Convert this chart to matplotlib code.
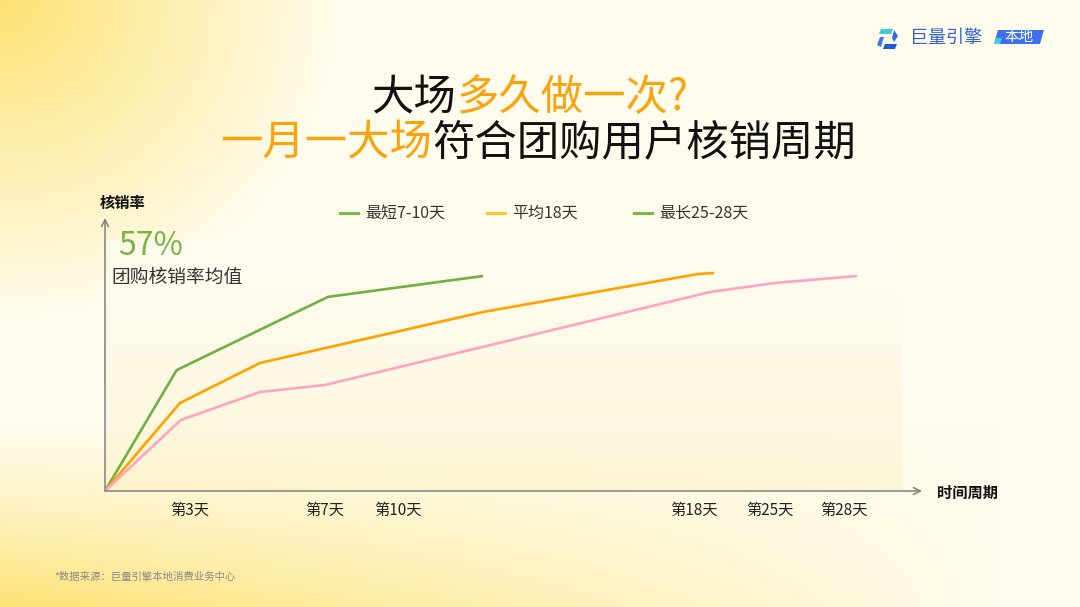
import numpy as np
import matplotlib
matplotlib.use('Agg')
import matplotlib.pyplot as plt
from matplotlib.lines import Line2D
from matplotlib.patches import Polygon

plt.rcParams['font.family'] = ['Noto Sans CJK SC', 'DejaVu Sans']

# ---------------- data ----------------
tick_pos = [10.34, 26.93, 35.86, 72.09, 81.40, 90.45]
tick_labels = ['第3天', '第7天', '第10天', '第18天', '第25天', '第28天']

short_x = [0, 8.78, 27.29, 46.27]
short_y = [0, 44.3, 71.1, 78.75]

avg_x = [0, 9.18, 18.97, 46.27, 72.58, 74.54]
avg_y = [0, 32.23, 46.89, 65.57, 79.49, 79.85]

long_x = [0, 9.27, 18.97, 26.93, 74.05, 82.01, 92.04]
long_y = [0, 26.0, 36.26, 38.83, 72.89, 76.19, 78.75]

legend_labels = ['最短7-10天', '平均18天', '最长25-28天']

GREEN = '#72B043'
ORANGE = '#FFA200'
PINK = '#FFA3C2'
LEG_COLORS = ['#7AB648', '#FFC82C', '#7AB648']

W, H = 1080, 607
fig = plt.figure(figsize=(10.8, 6.07), dpi=100)

def fx(px):
    return px / W

def fy(py):
    return 1 - py / H

# ---------------- background gradient ----------------
bg = fig.add_axes([0, 0, 1, 1], zorder=-10)
xx, yy = np.meshgrid(np.arange(W), np.arange(H))
d1 = np.sqrt((xx / 340.0) ** 2 + (yy / 320.0) ** 2)
w1 = np.clip(1 - d1, 0, 1) ** 1.0
w2 = np.clip((yy - 420) / 187.0, 0, 1) ** 1.3 * np.clip(1 - xx / 1000.0, 0, 1)
w = np.maximum(w1, w2)[..., None]
Y = np.array([253, 225, 115]) / 255.0
C = np.array([255, 252, 237]) / 255.0
img = C + w * (Y - C)
bg.imshow(img, aspect='auto', extent=[0, 1, 0, 1], origin='upper')
bg.set_axis_off()

# ---------------- main axes ----------------
ax = fig.add_axes([fx(105), fy(491), (922 - 105) / W, (491 - 218) / H])
ax.set_xlim(0, 100)
ax.set_ylim(0, 100)
ax.patch.set_alpha(0)
for s in ax.spines.values():
    s.set_visible(False)

# subtle panel gradient
grad = np.linspace(0, 1, 200)[:, None]
top = np.array([255, 254, 248]) / 255.0
bot = np.array([252, 242, 200]) / 255.0
pan = top + grad[..., None] * (bot - top)
pan = np.repeat(pan, 2, axis=1)
ax.imshow(pan, aspect='auto', extent=[0, 97.5, 0, 92], origin='upper', alpha=0.55, zorder=0)

ax.plot(short_x, short_y, color=GREEN, lw=1.9, zorder=3, solid_capstyle='butt')
ax.plot(avg_x, avg_y, color=ORANGE, lw=1.9, zorder=3, solid_capstyle='butt')
ax.plot(long_x, long_y, color=PINK, lw=1.9, zorder=3, solid_capstyle='butt')

axis_col = '#808080'
ax.annotate('', xy=(1.0, 0), xytext=(0, 0), xycoords='axes fraction',
            arrowprops=dict(arrowstyle='->,head_length=0.5,head_width=0.25',
                            color=axis_col, lw=1.1, shrinkA=0, shrinkB=0))
ax.annotate('', xy=(0, 1.0), xytext=(0, 0), xycoords='axes fraction',
            arrowprops=dict(arrowstyle='->,head_length=0.5,head_width=0.25',
                            color=axis_col, lw=1.1, shrinkA=0, shrinkB=0))

ax.set_xticks(tick_pos)
ax.set_xticklabels(tick_labels, fontsize=11, color='#222222')
ax.tick_params(axis='x', length=0, pad=8)
ax.set_yticks([])

# ---------------- titles ----------------
def colored_line(pieces, ypx, cxpx, fs):
    texts = []
    for s, c in pieces:
        t = fig.text(0, fy(ypx), s, color=c, fontsize=fs, ha='left', va='center',
                     fontweight='light')
        texts.append(t)
    r = fig.canvas.get_renderer()
    widths = [t.get_window_extent(r).width for t in texts]
    x = cxpx - sum(widths) / 2
    for t, wd in zip(texts, widths):
        t.set_x(fx(x))
        x += wd

TORANGE = '#F9A30E'
colored_line([('大场', '#111111'), ('多久做一次?', TORANGE)], 98, 530, 30.5)
colored_line([('一月一大场', TORANGE), ('符合团购用户核销周期', '#111111')], 143, 538, 30.5)

# ---------------- axis titles ----------------
fig.text(fx(100), fy(203), '核销率', fontsize=11, fontweight='bold', color='#111111',
         ha='left', va='center')
fig.text(fx(937), fy(493), '时间周期', fontsize=11, fontweight='bold', color='#111111',
         ha='left', va='center')

# ---------------- legend ----------------
leg_x = [340, 487, 634]
for lx, lab, col in zip(leg_x, legend_labels, LEG_COLORS):
    fig.add_artist(Line2D([fx(lx), fx(lx + 18)], [fy(213), fy(213)], color=col, lw=2.2))
    fig.text(fx(lx + 25), fy(213), lab, fontsize=11.5, color='#333333', ha='left', va='center')

# ---------------- annotation ----------------
fig.text(fx(118), fy(246), '57%', fontsize=23, color='#78B444', ha='left', va='center',
         fontweight='light')
fig.text(fx(111), fy(277), '团购核销率均值', fontsize=13.5, color='#333333', ha='left', va='center')

# ---------------- footnote ----------------
fig.text(fx(54), fy(577), '*数据来源：巨量引擎本地消费业务中心', fontsize=7.5, color='#8a8a8a',
         ha='left', va='center')

# ---------------- logo ----------------
def poly(pts, col):
    fig.add_artist(Polygon([(fx(a), fy(b)) for a, b in pts], closed=True,
                           facecolor=col, edgecolor='none'))

poly([(881, 29), (893, 29), (891, 34), (879, 34)], '#3CCFCF')
poly([(894, 30), (898, 36), (894, 42), (892, 38)], '#2F6BEA')
poly([(880, 37), (884, 37), (881, 47), (877, 45)], '#3B7BF0')
poly([(885, 44), (897, 44), (895, 49), (883, 49)], '#2458D6')
fig.text(fx(910), fy(38), '巨量引擎', fontsize=13, color='#2F5FDD', ha='left', va='center')
poly([(998, 30), (1044, 30), (1040, 44), (994, 44)], '#3D6FF0')
poly([(994, 44), (1000, 44), (1002, 38), (996, 38)], '#3FD3E0')
fig.text(fx(1019), fy(37.5), '本地', fontsize=10.5, color='white', ha='center', va='center')

fig.savefig('out.png', dpi=100)
